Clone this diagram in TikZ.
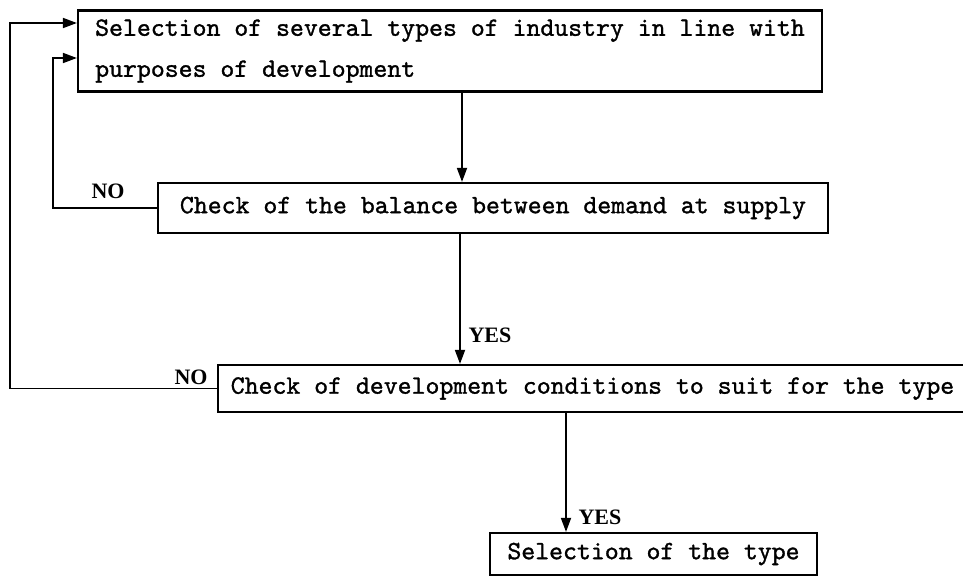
\documentclass[tikz,border=0pt]{standalone}
\usepackage{fontspec}
\newfontfamily\lblfont{Liberation Serif}
\newfontfamily\twfont{lmmono10-regular.otf}[FakeBold=1.2]
\usetikzlibrary{arrows.meta}

\tikzset{
  box/.style={draw=black, line width=2.2pt, inner sep=0pt, rectangle,
              font=\twfont\fontsize{26.5}{41}\selectfont},
  conn/.style={draw=black, line width=1.7pt},
  arr/.style={conn, -{Triangle[length=14pt,width=10pt]}},
  answer/.style={font=\lblfont\bfseries\fontsize{22}{24}\selectfont, inner sep=0pt}
}

\begin{document}
\begin{tikzpicture}[x=1pt, y=-1pt]
  \useasboundingbox[fill=white] (0,0) rectangle (963,576);

  % process boxes (typewriter spacing kept fixed inside aligned nodes)
  \node[box, minimum width=744pt, minimum height=81pt, align=left]
    (select) at (450,51) {\spaceskip=0pt\xspaceskip=0pt
      Selection of several types of industry in line with\\purposes of development};
  \node[box, minimum width=670pt, minimum height=50pt]
    (balance) at (493,208) {Check of the balance between demand at supply};
  \node[box, minimum width=749pt, minimum height=47pt]
    (conds) at (592.5,388.5) {Check of development conditions to suit for the type};
  \node[box, minimum width=327pt, minimum height=42pt]
    (chosen) at (653.5,554) {Selection of the type};

  % routing points of the connectors
  \coordinate (xa) at (462,0);
  \coordinate (xb) at (460,0);
  \coordinate (xc) at (566,0);
  \coordinate (loopin) at (53,58);
  \coordinate (loopout) at (10,23);

  % downward flow
  \draw[arr] (select.south -| xa) -- (balance.north -| xa);
  \draw[arr] (balance.south -| xb) -- (conds.north -| xb);
  \draw[arr] (conds.south -| xc) -- (chosen.north -| xc);

  % feedback loops
  \draw[arr] (balance.west) -| (loopin) -- (loopin -| select.west);
  \draw[arr] (conds.west) -| (loopout) -- (loopout -| select.west);

  % answer labels
  \node[answer] (yes1) at (490,335) {YES};
  \node[answer] (yes2) at (600,517) {YES};
  \node[answer] (no1) at (108,191) {NO};
  \node[answer] (no2) at (191,377) {NO};
\end{tikzpicture}
\end{document}
